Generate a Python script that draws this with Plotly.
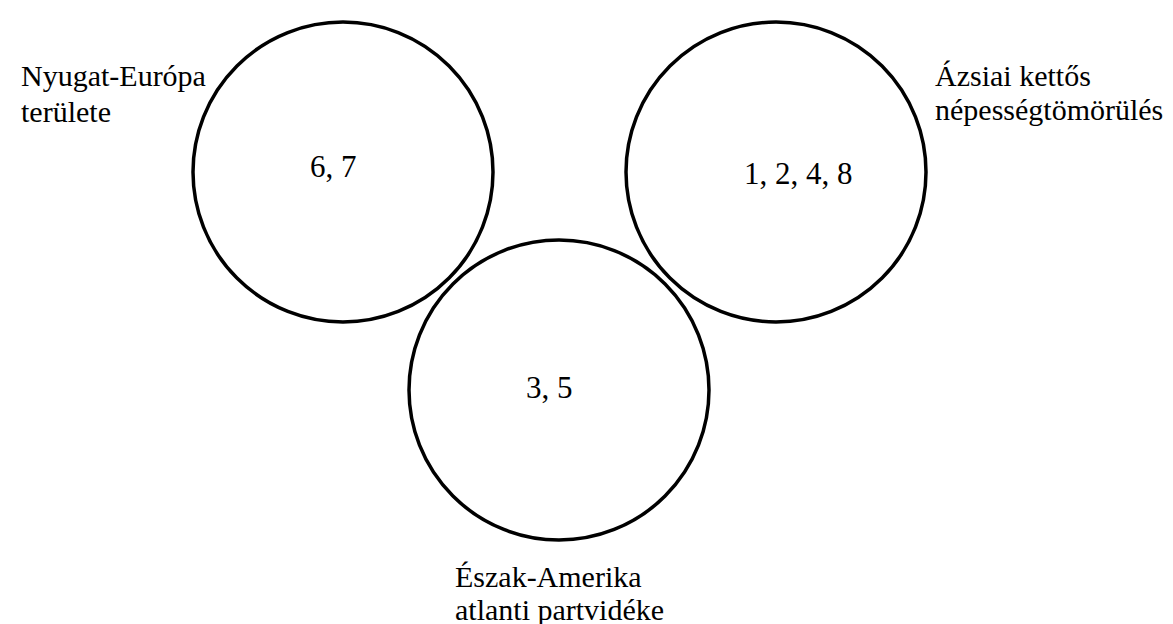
import plotly.graph_objects as go

# Data
regions = ["Nyugat-Európa\nterülete", "Ázsiai kettős\nnépességtömörülés", "Észak-Amerika\natlanti partvidéke"]
members = [[6, 7], [1, 2, 4, 8], [3, 5]]

# Layout (pixel-like coordinate system)
W, H = 1173, 624
circle_centers = [(335, 164), (768, 164), (551, 382)]
radius = 150
member_pos = [(325, 158), (790, 165), (541, 379)]
label_pos = [(11, 67, 36), (925, 67, 34), (445, 568, 33)]  # x, first-line center y, line step

FONT = "Liberation Serif"
LABEL_SIZE = 30
NUM_SIZE = 31

fig = go.Figure()
fig.add_trace(go.Scatter(x=[0, W], y=[0, H], mode="markers", marker=dict(opacity=0),
                         hoverinfo="skip", showlegend=False))

shapes = []
for (cx, cy) in circle_centers:
    shapes.append(dict(type="circle", xref="x", yref="y",
                       x0=cx - radius, x1=cx + radius, y0=cy - radius, y1=cy + radius,
                       line=dict(color="black", width=3.5), fillcolor="rgba(0,0,0,0)"))

annotations = []
for mem, (mx, my) in zip(members, member_pos):
    annotations.append(dict(x=mx, y=my, xref="x", yref="y", text=", ".join(str(m) for m in mem),
                            showarrow=False, xanchor="center", yanchor="middle",
                            font=dict(family=FONT, size=NUM_SIZE, color="black")))
for name, (lx, ly, step) in zip(regions, label_pos):
    for i, line in enumerate(name.split("\n")):
        annotations.append(dict(x=lx, y=ly + i * step, xref="x", yref="y", text=line,
                                showarrow=False, xanchor="left", yanchor="middle",
                                font=dict(family=FONT, size=LABEL_SIZE, color="black")))

fig.update_layout(
    width=W, height=H,
    margin=dict(l=0, r=0, t=0, b=0),
    paper_bgcolor="white", plot_bgcolor="white",
    xaxis=dict(range=[0, W], visible=False, fixedrange=True),
    yaxis=dict(range=[H, 0], visible=False, fixedrange=True),
    shapes=shapes, annotations=annotations, showlegend=False,
)
fig.write_html("out.html")
